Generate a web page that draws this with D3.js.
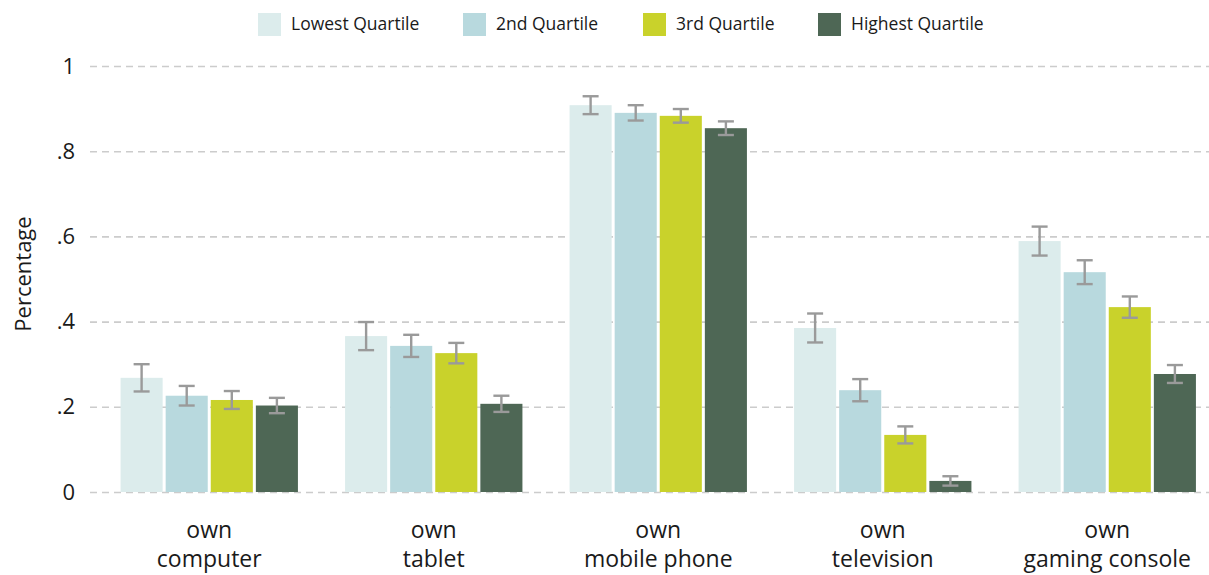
<!DOCTYPE html>
<html>

<head>
    <meta charset="utf-8">
    <style type="text/css">
        body {
            margin: 0;
            background: #fff;
        }

        text {
            font-family: "Open Sans", sans-serif;
            fill: #1a1a1a;
        }
    </style>
    <title>Device ownership by quartile</title>
</head>

<body>
    <div id="chart"></div>

    <script src="https://cdn.jsdelivr.net/npm/d3@7"></script>
    <script>

        // categories (two-line labels)
        var categories = ["own computer", "own tablet", "own mobile phone", "own television", "own gaming console"];
        var categoryLines = [["own", "computer"], ["own", "tablet"], ["own", "mobile phone"], ["own", "television"], ["own", "gaming console"]];

        var quartiles = ["Lowest Quartile", "2nd Quartile", "3rd Quartile", "Highest Quartile"];
        var colors = ["#dcecec", "#b8d9de", "#c9d22b", "#4e6755"];

        // share per category, one array per quartile
        var lowest = [0.268, 0.366, 0.908, 0.385, 0.589];
        var second = [0.226, 0.343, 0.890, 0.239, 0.516];
        var third = [0.216, 0.326, 0.883, 0.134, 0.434];
        var highest = [0.203, 0.207, 0.854, 0.026, 0.277];

        // half-width of the confidence interval
        var errLowest = [0.032, 0.033, 0.021, 0.034, 0.034];
        var errSecond = [0.023, 0.026, 0.018, 0.026, 0.028];
        var errThird = [0.021, 0.024, 0.016, 0.020, 0.025];
        var errHighest = [0.018, 0.019, 0.016, 0.011, 0.021];

        var yTicks = [0, 0.2, 0.4, 0.6, 0.8, 1];
        var yTickLabels = ["0", ".2", ".4", ".6", ".8", "1"];

        var series = [lowest, second, third, highest];
        var errors = [errLowest, errSecond, errThird, errHighest];

        var width = 1209, height = 575;

        var svg = d3.select("#chart")
            .append("svg")
            .attr("width", width)
            .attr("height", height);

        var x0 = d3.scaleBand()
            .domain(categories)
            .range([97, 1219.5])
            .paddingInner(0.21)
            .paddingOuter(0.105);

        var x1 = d3.scaleBand()
            .domain(quartiles)
            .range([0, x0.bandwidth()])
            .paddingInner(0.067)
            .paddingOuter(0);

        var y = d3.scaleLinear()
            .domain([0, 1])
            .range([492, 66]);

        //gridlines + tick labels
        var yAxis = d3.axisLeft(y)
            .tickValues(yTicks)
            .tickFormat(function (d, i) { return yTickLabels[i]; })
            .tickSize(-(width - 90))
            .tickPadding(15);

        var gy = svg.append("g")
            .attr("transform", "translate(90,0)")
            .call(yAxis);

        gy.select(".domain").remove();
        gy.selectAll(".tick line")
            .attr("stroke", "#cccccc")
            .attr("stroke-width", 1.6)
            .attr("stroke-dasharray", "7,5");
        gy.selectAll(".tick text")
            .style("font-family", "Open Sans, sans-serif")
            .style("font-size", "22px")
            .attr("fill", "#1a1a1a");

        svg.append("text")
            .attr("transform", "translate(31," + 274 + ") rotate(-90)")
            .attr("text-anchor", "middle")
            .style("font-size", "22px")
            .text("Percentage");

        //bars
        var rows = [];
        categories.forEach(function (c, ci) {
            quartiles.forEach(function (q, qi) {
                rows.push({ cat: c, q: q, qi: qi, value: series[qi][ci], err: errors[qi][ci] });
            });
        });

        var bars = svg.append("g").selectAll("rect")
            .data(rows)
            .enter()
            .append("rect")
            .attr("x", function (d) { return x0(d.cat) + x1(d.q); })
            .attr("y", function (d) { return y(d.value); })
            .attr("width", x1.bandwidth())
            .attr("height", function (d) { return y(0) - y(d.value); })
            .style("fill", function (d) { return colors[d.qi]; });

        //error bars
        var capHalf = 8;
        var eb = svg.append("g")
            .attr("stroke", "#9a9a9a")
            .attr("stroke-width", 2.4)
            .selectAll("g")
            .data(rows)
            .enter()
            .append("g");

        function cx(d) { return x0(d.cat) + x1(d.q) + x1.bandwidth() / 2; }

        eb.append("line")
            .attr("x1", cx).attr("x2", cx)
            .attr("y1", function (d) { return y(d.value + d.err); })
            .attr("y2", function (d) { return y(d.value - d.err); });
        eb.append("line")
            .attr("x1", function (d) { return cx(d) - capHalf; })
            .attr("x2", function (d) { return cx(d) + capHalf; })
            .attr("y1", function (d) { return y(d.value + d.err); })
            .attr("y2", function (d) { return y(d.value + d.err); });
        eb.append("line")
            .attr("x1", function (d) { return cx(d) - capHalf; })
            .attr("x2", function (d) { return cx(d) + capHalf; })
            .attr("y1", function (d) { return y(d.value - d.err); })
            .attr("y2", function (d) { return y(d.value - d.err); });

        //category labels
        var labels = svg.append("g").selectAll("text")
            .data(categories)
            .enter()
            .append("text")
            .attr("text-anchor", "middle")
            .attr("x", function (d) { return x0(d) + x0.bandwidth() / 2; })
            .attr("y", 538)
            .style("font-size", "23px");

        labels.each(function (d, i) {
            var t = d3.select(this);
            categoryLines[i].forEach(function (line, li) {
                t.append("tspan")
                    .attr("x", x0(d) + x0.bandwidth() / 2)
                    .attr("dy", li === 0 ? 0 : 29)
                    .text(line);
            });
        });

        //legend
        var legendX = [258, 463, 643, 818];
        var legend = svg.append("g").selectAll("g")
            .data(quartiles)
            .enter()
            .append("g")
            .attr("transform", function (d, i) { return "translate(" + legendX[i] + ",13)"; });

        legend.append("rect")
            .attr("width", 23)
            .attr("height", 23)
            .style("fill", function (d, i) { return colors[i]; });

        legend.append("text")
            .attr("x", 33)
            .attr("y", 17)
            .style("font-size", "17.5px")
            .text(function (d) { return d; });

    </script>
</body>

</html>
